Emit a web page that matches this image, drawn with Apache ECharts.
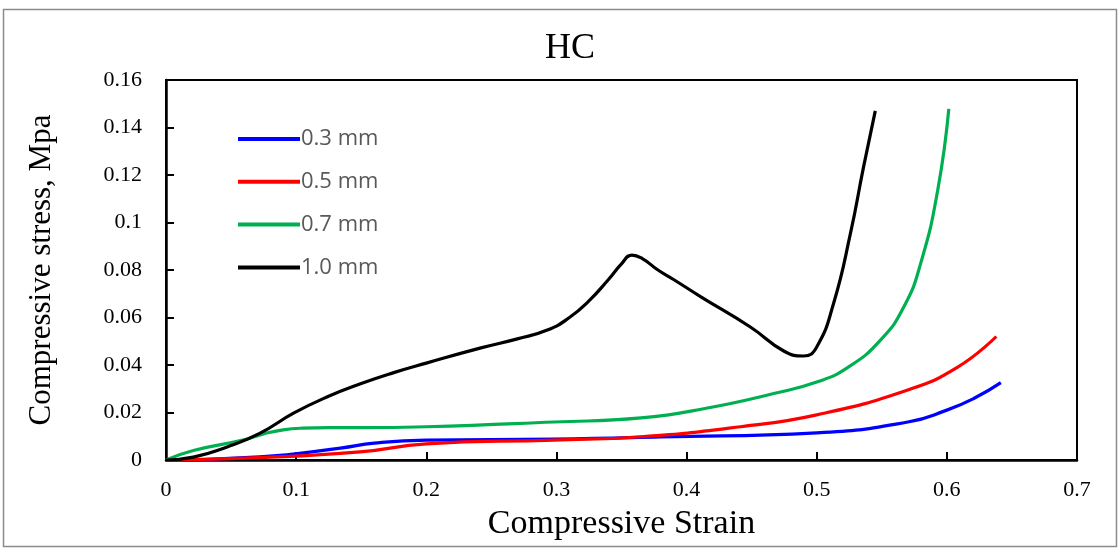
<!DOCTYPE html>
<html>
<head>
<meta charset="utf-8">
<script src="https://cdn.jsdelivr.net/npm/echarts@6/dist/echarts.min.js"></script>
<style>
  html, body { margin: 0; padding: 0; background: #fff; }
  #chart { width: 1120px; height: 548px; }
</style>
</head>
<body>
<div id="chart"></div>
<script>
// values
const strain03 = [0, 0.072, 0.134, 0.16, 0.2, 0.298, 0.38, 0.5, 0.57, 0.6, 0.621, 0.6415]
const stress03 = [0, 0.0013, 0.005, 0.0071, 0.0084, 0.0088, 0.0097, 0.0114, 0.016, 0.021, 0.026, 0.0326]

const strain05 = [0, 0.072, 0.149, 0.2, 0.298, 0.365, 0.4415, 0.5, 0.57, 0.608, 0.638]
const stress05 = [0, 0.001, 0.0034, 0.0068, 0.0084, 0.0098, 0.014, 0.019, 0.0295, 0.039, 0.052]

const strain07 = [0, 0.021, 0.059, 0.075, 0.09, 0.105, 0.125, 0.149, 0.2, 0.298, 0.365, 0.416, 0.467, 0.5, 0.524, 0.549, 0.567, 0.58, 0.593, 0.6015]
const stress07 = [0, 0.004, 0.0084, 0.011, 0.0127, 0.0134, 0.0136, 0.0136, 0.014, 0.016, 0.0177, 0.0219, 0.028, 0.0328, 0.039, 0.0505, 0.0645, 0.083, 0.1137, 0.1478]

const strain10 = [0, 0.021, 0.047, 0.072, 0.098, 0.124, 0.15, 0.175, 0.2, 0.242, 0.27, 0.293, 0.31, 0.325, 0.34, 0.35, 0.358, 0.366, 0.378, 0.39, 0.411, 0.449, 0.475, 0.49, 0.5, 0.513, 0.526, 0.536, 0.545]
const stress10 = [0, 0.0012, 0.0055, 0.0112, 0.0197, 0.0266, 0.0322, 0.0368, 0.0408, 0.0472, 0.051, 0.0547, 0.06, 0.067, 0.076, 0.0826, 0.0863, 0.0848, 0.08, 0.076, 0.0687, 0.056, 0.0458, 0.0438, 0.0476, 0.066, 0.0956, 0.1234, 0.147]

const seriesNames = ['0.3 mm', '0.5 mm', '0.7 mm', '1.0 mm']
const seriesColors = ['#0000ff', '#ff0000', '#00b050', '#000000']

function pairs(xs, ys) {
  return xs.map((x, i) => [x, ys[i]])
}

const allData = [
  pairs(strain03, stress03),
  pairs(strain05, stress05),
  pairs(strain07, stress07),
  pairs(strain10, stress10)
]

const serif = 'Liberation Serif'

const chart = echarts.init(document.getElementById('chart'))
chart.setOption({
  animation: false,
  title: {
    text: 'HC',
    left: 565,
    top: 26,
    textAlign: 'center',
    textStyle: { fontFamily: serif, fontSize: 36, fontWeight: 'normal', color: '#000' }
  },
  graphic: [{
    type: 'rect',
    shape: { x: 3.5, y: 9.5, width: 1113, height: 537 },
    style: { fill: 'none', stroke: '#8c8c8c', lineWidth: 1.5 },
    silent: true
  }],
  legend: {
    orient: 'vertical',
    left: 233,
    top: 123,
    itemWidth: 62,
    itemHeight: 4,
    itemGap: 20.8,
    icon: 'rect',
    data: seriesNames,
    textStyle: { fontFamily: 'Open Sans', fontSize: 22, color: '#595959', lineHeight: 20, padding: [0, 0, 0, -4] }
  },
  grid: {
    left: 166,
    right: 43,
    top: 80,
    bottom: 88,
    show: true,
    borderColor: '#000',
    borderWidth: 2
  },
  xAxis: {
    type: 'value',
    min: 0,
    max: 0.7,
    interval: 0.1,
    name: 'Compressive Strain',
    nameLocation: 'middle',
    nameGap: 47,
    nameTextStyle: { fontFamily: serif, fontSize: 34, color: '#000' },
    axisLine: { lineStyle: { color: '#000', width: 2.5 } },
    axisTick: { inside: true, length: 8, lineStyle: { color: '#000', width: 2 } },
    axisLabel: { fontFamily: serif, fontSize: 22, color: '#000', margin: 19 },
    splitLine: { show: false }
  },
  yAxis: {
    type: 'value',
    min: 0,
    max: 0.16,
    interval: 0.02,
    name: 'Compressive stress, Mpa',
    nameLocation: 'middle',
    nameGap: 109,
    nameTextStyle: { fontFamily: serif, fontSize: 31, color: '#000' },
    axisLine: { lineStyle: { color: '#000', width: 2.5 } },
    axisTick: { inside: true, length: 8, lineStyle: { color: '#000', width: 2 } },
    axisLabel: { fontFamily: serif, fontSize: 22, color: '#000', margin: 24 },
    splitLine: { show: false }
  },
  series: allData.map((d, i) => ({
    name: seriesNames[i],
    type: 'line',
    data: d,
    smooth: 0.5,
    showSymbol: false,
    symbol: 'none',
    itemStyle: { color: seriesColors[i] },
    lineStyle: { color: seriesColors[i], width: 3.2 }
  }))
})
</script>
</body>
</html>
